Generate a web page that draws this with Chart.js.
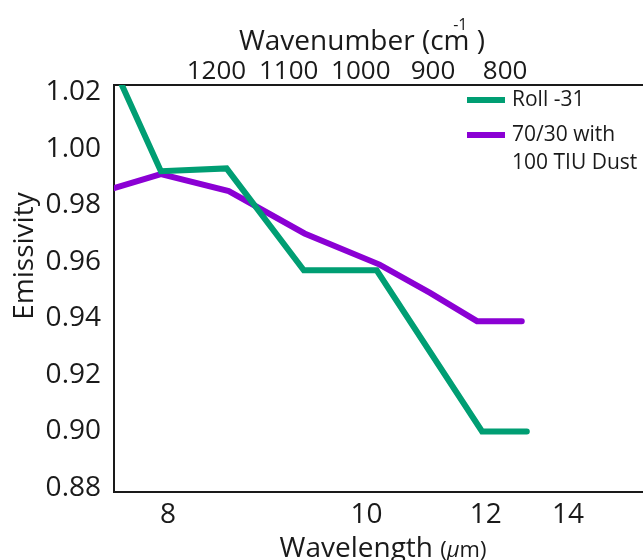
<!DOCTYPE html>
<html>
<head>
<meta charset="utf-8">
<script src="https://cdn.jsdelivr.net/npm/chart.js@4.4.0/dist/chart.umd.min.js"></script>
<style>
  body { margin: 0; background: #fff; }
  #wrap { width: 643px; height: 560px; }
</style>
</head>
<body>
<div id="wrap"><canvas id="chart" width="643" height="560"></canvas></div>
<script>
// points, x in wavenumber (cm-1)
const rollX = [1332, 1277, 1186, 1079, 978, 832, 770];
const rollY = [1.023, 0.992, 0.993, 0.957, 0.957, 0.900, 0.900];
const dustX = [1342, 1277, 1183, 1078, 974, 904, 839, 777];
const dustY = [0.986, 0.991, 0.985, 0.970, 0.959, 0.949, 0.939, 0.939];

const emissivityTicks = [0.88, 0.90, 0.92, 0.94, 0.96, 0.98, 1.00, 1.02];
const wavenumberTicks = [1200, 1100, 1000, 900, 800];
const wavelengthTicks = ['8', '10', '12', '14'];
const wavelengthTickAt = [1267, 992, 827, 713]; // where the um labels sit (cm-1)

const ink = '#1a1a1a';
const green = '#009e73';
const purple = '#8b00d4';
const fam = '"Open Sans", sans-serif';

const toPoints = (xs, ys) => xs.map((x, i) => ({ x: x, y: ys[i] }));

// axis titles + legend drawn by hand (superscript, mixed sizes)
const extras = {
  id: 'extras',
  afterDraw(chart) {
    const ctx = chart.ctx;
    ctx.save();
    ctx.fillStyle = ink;
    ctx.textBaseline = 'alphabetic';

    // left title
    ctx.save();
    ctx.font = '28px ' + fam;
    ctx.translate(33, 256);
    ctx.rotate(-Math.PI / 2);
    ctx.textAlign = 'center';
    ctx.fillText('Emissivity', 0, 0);
    ctx.restore();

    // top title
    ctx.textAlign = 'left';
    ctx.font = '28px ' + fam;
    const main = 'Wavenumber (cm';
    const tail = ' )';
    const wMain = ctx.measureText(main).width;
    const wTail = ctx.measureText(tail).width;
    let x0 = 362 - (wMain + wTail) / 2;
    ctx.fillText(main, x0, 50);
    ctx.fillText(tail, x0 + wMain, 50);
    ctx.font = '16px ' + fam;
    const wSup = ctx.measureText('-1').width;
    ctx.fillText('-1', x0 + wMain - wSup - 2, 30);

    // bottom title
    ctx.font = '28px ' + fam;
    const wl = 'Wavelength ';
    const wWl = ctx.measureText(wl).width;
    ctx.font = '22px ' + fam;
    const wOpen = ctx.measureText('(').width;
    const wRest = ctx.measureText('m)').width;
    ctx.font = 'italic 22px ' + fam;
    const wMu = ctx.measureText('\u03bc').width;
    x0 = 383 - (wWl + wOpen + wMu + wRest) / 2;
    ctx.font = '28px ' + fam;
    ctx.fillText(wl, x0, 557);
    ctx.font = '22px ' + fam;
    ctx.fillText('(', x0 + wWl, 557);
    ctx.font = 'italic 22px ' + fam;
    ctx.fillText('\u03bc', x0 + wWl + wOpen, 557);
    ctx.font = '22px ' + fam;
    ctx.fillText('m)', x0 + wWl + wOpen + wMu, 557);

    // legend
    ctx.font = '21px ' + fam;
    ctx.textBaseline = 'middle';
    let y = 100;
    chart.data.datasets.forEach(ds => {
      ctx.strokeStyle = ds.borderColor;
      ctx.lineWidth = 6;
      ctx.beginPath();
      ctx.moveTo(467, y);
      ctx.lineTo(505, y);
      ctx.stroke();
      ds.label.split('\n').forEach((line, k) => {
        ctx.fillText(line, 512, y + k * 28);
      });
      y += 35;
    });
    ctx.restore();
  }
};

new Chart(document.getElementById('chart'), {
  type: 'line',
  data: {
    datasets: [
      {
        label: 'Roll -31',
        data: toPoints(rollX, rollY),
        borderColor: green,
        borderWidth: 6,
        pointRadius: 0,
        borderCapStyle: 'round',
        xAxisID: 'x'
      },
      {
        label: '70/30 with\n100 TIU Dust',
        data: toPoints(dustX, dustY),
        borderColor: purple,
        borderWidth: 6,
        pointRadius: 0,
        borderCapStyle: 'round',
        xAxisID: 'x'
      }
    ]
  },
  options: {
    responsive: false,
    animation: false,
    layout: { padding: 0 },
    plugins: { legend: { display: false }, tooltip: { enabled: false } },
    scales: {
      x: {
        type: 'linear',
        position: 'bottom',
        reverse: true,
        min: 609,
        max: 1342,
        grid: { display: false },
        border: { display: true, color: ink, width: 2 },
        afterBuildTicks: s => { s.ticks = wavelengthTickAt.map(v => ({ value: v })); },
        ticks: {
          autoSkip: false, maxRotation: 0, padding: -2, color: ink,
          font: { family: fam, size: 28 },
          callback: (v, i) => wavelengthTicks[i]
        },
        afterFit: s => { s.height = 68; }
      },
      xTop: {
        type: 'linear',
        position: 'top',
        reverse: true,
        min: 609,
        max: 1342,
        grid: { display: false },
        border: { display: true, color: ink, width: 2 },
        afterBuildTicks: s => { s.ticks = wavenumberTicks.map(v => ({ value: v })); },
        ticks: {
          autoSkip: false, maxRotation: 0, padding: -8, color: ink,
          font: { family: fam, size: 26, lineHeight: 1 },
          callback: v => String(v)
        },
        afterFit: s => { s.height = 85; }
      },
      y: {
        type: 'linear',
        min: 0.8786,
        max: 1.0225,
        grid: { display: false },
        border: { display: true, color: ink, width: 2 },
        afterBuildTicks: s => { s.ticks = emissivityTicks.map(v => ({ value: v })); },
        ticks: {
          autoSkip: false, padding: 5, color: ink,
          font: { family: fam, size: 28 },
          callback: v => v.toFixed(2)
        },
        afterFit: s => { s.width = 114; }
      }
    }
  },
  plugins: [extras]
});
</script>
</body>
</html>
